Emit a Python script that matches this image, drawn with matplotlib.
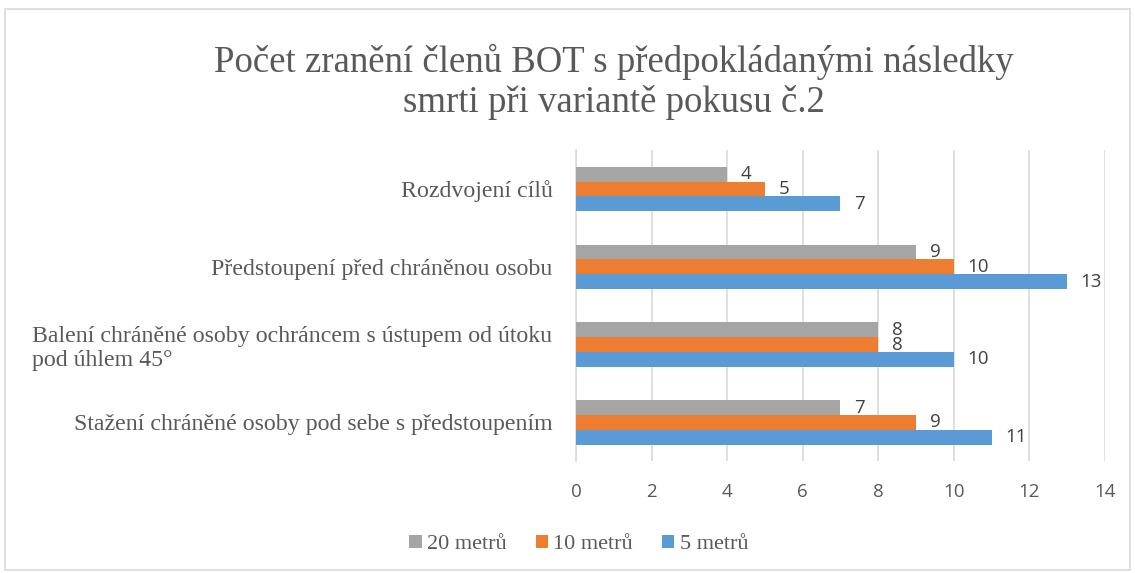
import matplotlib
matplotlib.use('Agg')
import matplotlib.pyplot as plt
import numpy as np
from matplotlib.patches import Rectangle

categories = ['Stažení chráněné osoby pod sebe s předstoupením',
              'Balení chráněné osoby ochráncem s ústupem od útoku\npod úhlem 45°',
              'Předstoupení před chráněnou osobu',
              'Rozdvojení cílů']
series_names = ['20 metrů', '10 metrů', '5 metrů']
m20 = [7, 8, 9, 4]
m10 = [9, 8, 10, 5]
m5 = [11, 10, 13, 7]
colors = ['#a5a5a5', '#ed7d31', '#5b9bd5']
ticks = [0, 2, 4, 6, 8, 10, 12, 14]

serif = 'Liberation Serif'
sans = 'Open Sans'

fig = plt.figure(figsize=(11.35, 5.73), dpi=100)
ax = fig.add_axes([0.5075, 0.195, 0.466, 0.543])

y = np.arange(len(categories))
h = 0.19
offsets = [h, 0, -h]
for vals, name, col, off in zip([m20, m10, m5], series_names, colors, offsets):
    bars = ax.barh(y + off, vals, height=h, color=col, label=name, zorder=3)
    for b, v in zip(bars, vals):
        ax.text(v + 0.36, b.get_y() + h / 2, str(v), va='center', ha='left',
                fontsize=13.5, color='#404040', family=sans, zorder=4)

ax.set_xlim(0, 14)
ax.set_ylim(-0.5, len(categories) - 0.5)
ax.set_xticks(ticks)
ax.set_xticklabels([str(t) for t in ticks], family=sans, fontsize=13.5, color='#595959')
ax.set_yticks(y)
ax.set_yticklabels(categories, family=serif, fontsize=17.2, color='#595959',
                   multialignment='left')
ax.tick_params(length=0)
ax.tick_params(axis='x', pad=16)
ax.tick_params(axis='y', pad=17)
ax.grid(axis='x', color='#d9d9d9', linewidth=1.2, zorder=0)
for s in ['top', 'right', 'bottom']:
    ax.spines[s].set_visible(False)
ax.spines['left'].set_color('#d9d9d9')
ax.spines['left'].set_linewidth(1.2)

fig.text(0.541, 0.857, 'Počet zranění členů BOT s předpokládanými následky\nsmrti při variantě pokusu č.2',
         ha='center', va='center', family=serif, fontsize=26.5, color='#595959',
         linespacing=1.2)

handles, labels = ax.get_legend_handles_labels()
fig.legend(handles, labels, loc='center', bbox_to_anchor=(0.51, 0.05), ncol=3,
           frameon=False, prop={'family': serif, 'size': 16},
           labelcolor='#595959', handlelength=0.55, handleheight=0.55,
           handletextpad=0.25, columnspacing=1.3)

fig.patches.append(Rectangle((0.004, 0.005), 0.992, 0.98, transform=fig.transFigure,
                             fill=False, edgecolor='#d9d9d9', linewidth=1.2))

fig.savefig('out.png', dpi=100)
